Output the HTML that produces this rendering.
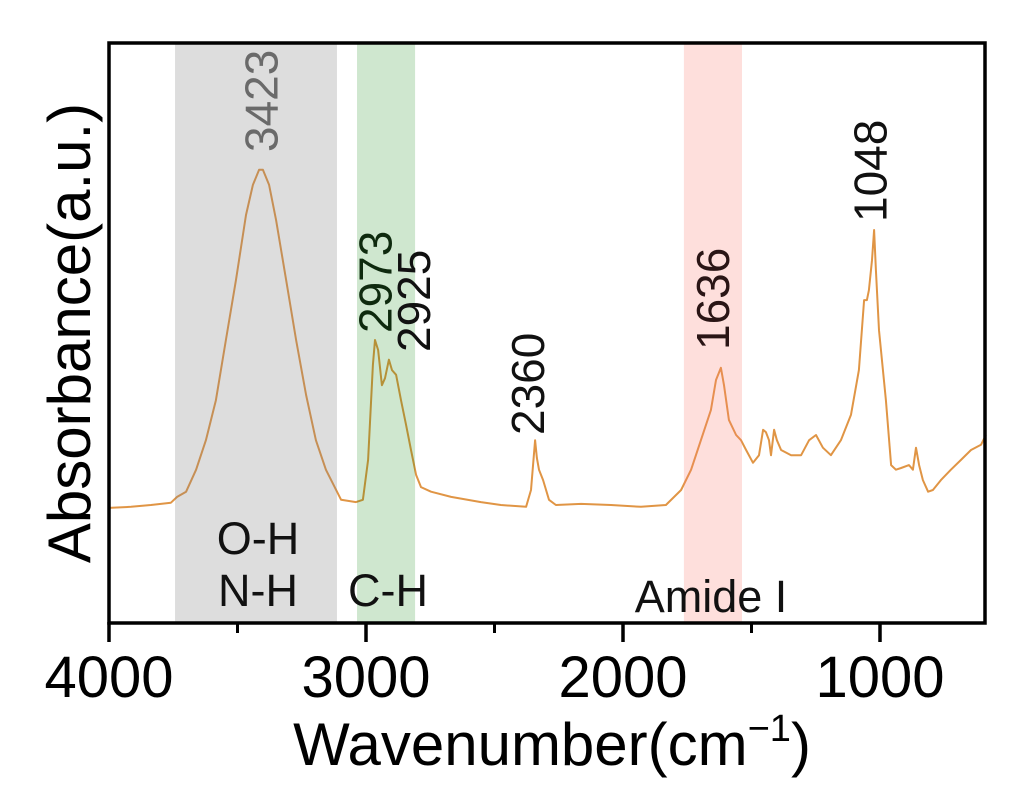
<!DOCTYPE html>
<html><head><meta charset="utf-8"><style>
body{margin:0;background:#fff;}
svg text{font-family:"Liberation Sans",Arial,sans-serif;}
</style></head><body>
<svg id="chart" width="1016" height="801" viewBox="0 0 1016 801" xmlns="http://www.w3.org/2000/svg">
<g id="series"></g>
<g id="bands"></g>
<g id="labels"></g>
<rect x="109" y="43" width="876" height="580" fill="none" stroke="#000" stroke-width="3.5"/>
<g id="axis"></g>
<text x="552" y="765" font-size="60" text-anchor="middle">Wavenumber(cm<tspan font-size="38" dy="-24">−1</tspan><tspan dy="24">)</tspan></text>
<text transform="translate(90,333) rotate(-90)" font-size="60" text-anchor="middle">Absorbance(a.u.)</text>
</svg>
<script>
const wavenumbers=[4000,3914,3837,3759,3735,3700,3661,3623,3584,3545,3506,3467,3440,3416,3401,3377,3350,3311,3272,3233,3195,3156,3097,3039,3012,2992,2973,2965,2953,2938,2926,2911,2899,2883,2864,2844,2825,2805,2786,2747,2669,2553,2475,2377,2358,2342,2335,2327,2311,2288,2261,2163,2047,1930,1833,1774,1735,1697,1658,1638,1619,1607,1588,1560,1541,1521,1494,1471,1455,1444,1432,1424,1412,1401,1385,1346,1307,1276,1249,1222,1191,1152,1113,1082,1062,1051,1043,1031,1023,1016,1004,977,957,938,918,887,872,860,848,833,813,794,763,724,685,646,607,588];
const absorb=[19.7,19.9,20.2,20.6,21.6,22.5,26.3,31.4,38.3,48.7,59.1,70.3,75.5,78.1,78.1,75.5,69.4,59.1,48.7,39.2,31.4,26.3,21.1,20.7,21.1,28.0,44.4,48.7,47.0,40.9,42.1,45.3,43.5,42.7,38.3,34.0,29.7,25.4,23.3,22.5,21.6,20.7,20.2,19.9,22.8,31.4,28.3,26.3,24.5,21.1,20.2,20.4,20.2,19.9,20.2,22.8,26.3,31.4,36.6,41.8,43.9,40.9,34.9,32.3,31.4,29.7,27.5,28.8,33.2,32.8,31.4,28.8,33.2,31.4,29.7,28.8,28.8,31.4,32.3,30.1,28.8,31.4,35.8,43.5,55.6,55.6,57.3,62.5,67.7,60.8,50.4,38.3,27.1,26.3,26.6,27.1,26.3,30.1,27.1,24.5,22.5,22.8,24.5,26.3,28.0,29.7,30.6,32.3];
const bandStart=[3743,3035,1763];
const bandEnd=[3113,2809,1537];
const bandColors=['rgba(128,128,128,0.27)','rgba(0,128,0,0.19)','rgba(250,128,114,0.25)'];
const bandNames=['oh-nh-band','ch-band','amide-band'];
const peakVals=['3423','2973','2925','2360','1636','1048'];
const peakPos=[3410,2966,2817,2373,1653,1041];
const peakBottom=[152,333,352,435,350,222];
const peakColors=['#6a6a6a','#0e2a0e','#111','#111','#2a1515','#111'];
const tickVals=[4000,3000,2000,1000];
const minorVals=[3500,2500,1500];
const xs=w=>109+(4000-w)*0.257;
const ys=a=>622-a*5.79;
const NS='http://www.w3.org/2000/svg';
function mk(tag,attrs,parent){const e=document.createElementNS(NS,tag);for(const k in attrs)e.setAttribute(k,attrs[k]);document.getElementById(parent).appendChild(e);return e;}
const d=wavenumbers.map((w,i)=>(i?'L':'M')+xs(w).toFixed(1)+','+ys(absorb[i]).toFixed(1)).join('');
const p=mk('path',{d:d,fill:'none',stroke:'#e09545','stroke-width':2,'stroke-linejoin':'round'},'series');


bandStart.forEach((s,i)=>{
 const r=mk('rect',{x:xs(s),y:43,width:xs(bandEnd[i])-xs(s),height:580,fill:bandColors[i]},'bands');
 
 
});
peakVals.forEach((v,i)=>{
 const x=xs(peakPos[i])+17;
 const t=mk('text',{transform:`translate(${x},${peakBottom[i]}) rotate(-90)`,'font-size':46,'text-anchor':'start',fill:peakColors[i]},'labels');
 t.textContent=v;
 
 
});
[['O-H',258,554,'oh-label'],['N-H',258,606,'nh-label'],['C-H',388,606,'ch-label'],['Amide I',711,612,'amide-label']].forEach(a=>{
 const t=mk('text',{x:a[1],y:a[2],'font-size':45,'text-anchor':'middle',fill:'#111'},'labels');
 t.textContent=a[0];
 
 
});
tickVals.forEach(v=>{
 const l=mk('line',{x1:xs(v),x2:xs(v),y1:622,y2:642,stroke:'#000','stroke-width':3.5},'axis');
 
 
 const t=mk('text',{x:xs(v),y:697,'font-size':58,'text-anchor':'middle'},'axis');
 t.textContent=v;
 
 
});
minorVals.forEach(v=>{
 const l=mk('line',{x1:xs(v),x2:xs(v),y1:622,y2:633,stroke:'#000','stroke-width':3},'axis');
 
 
});
</script>
</body></html>
